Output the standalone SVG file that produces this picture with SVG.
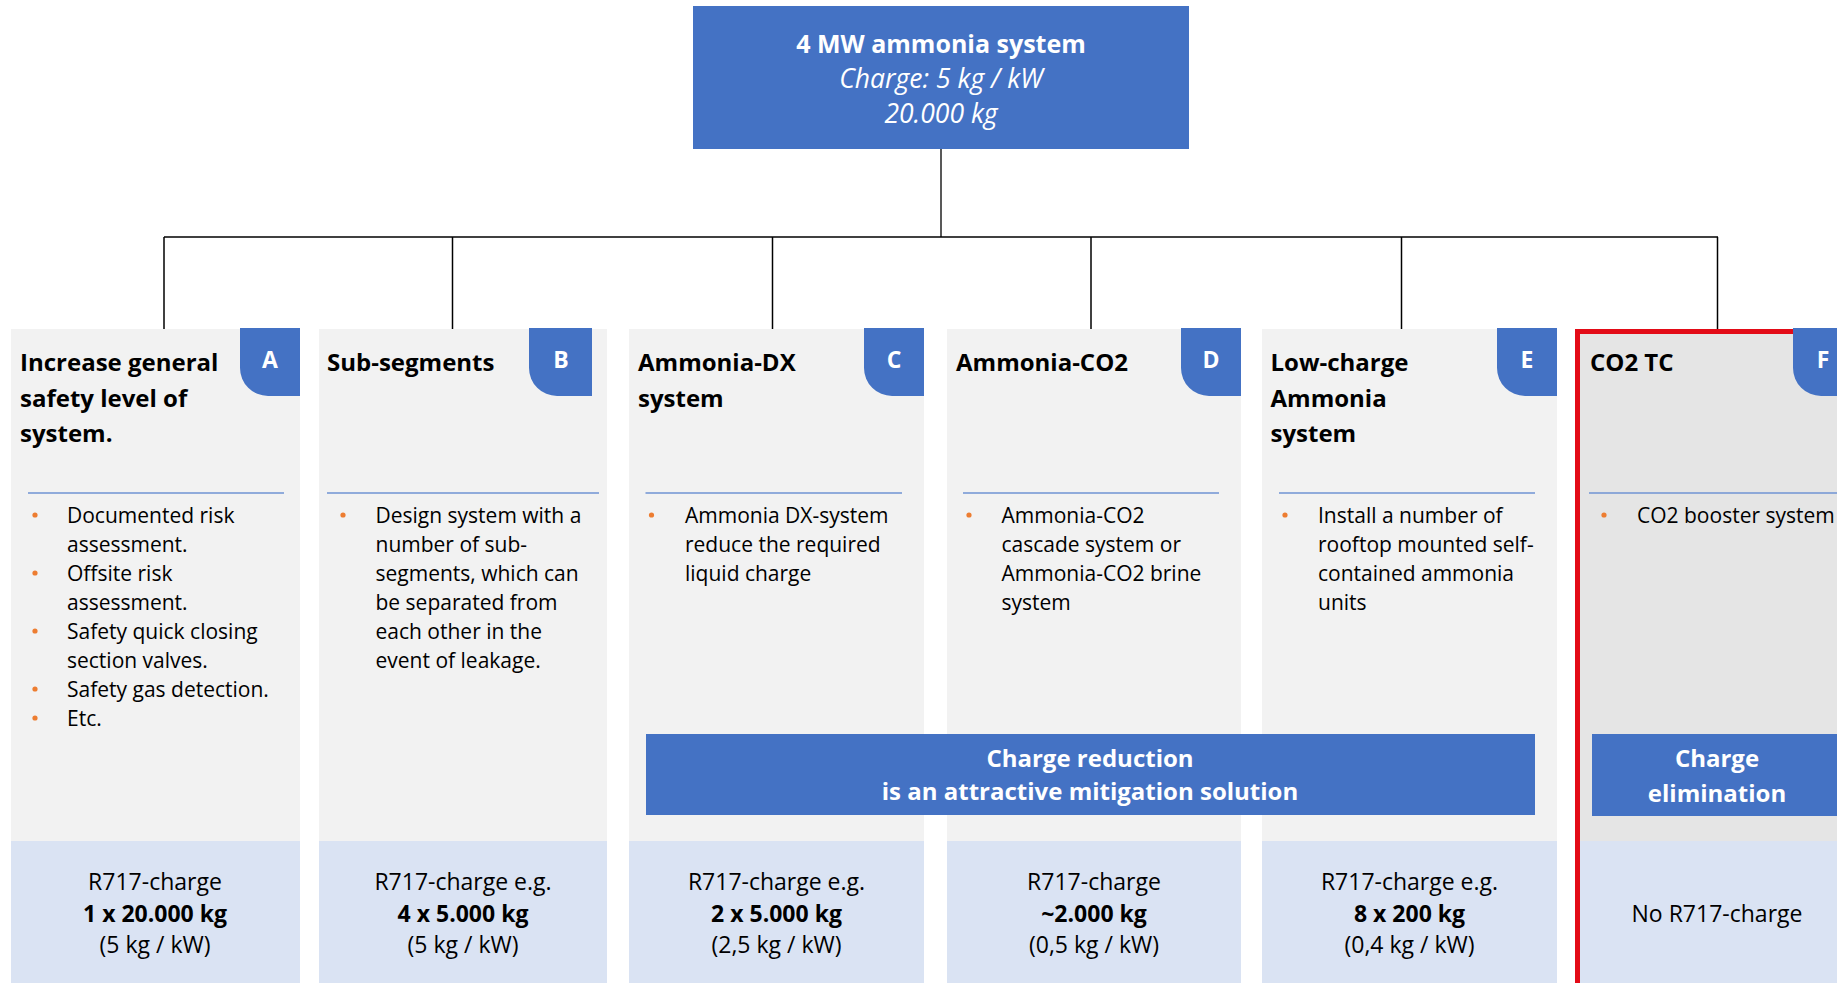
<svg xmlns="http://www.w3.org/2000/svg" width="1837" height="983" viewBox="0 0 1837 983">
<style>
.panel{fill:#F2F2F2}
.panelF{fill:#E5E5E5}
.lb{fill:#DAE3F3}
.blue{fill:#4472C4}
.sep{stroke:#6F93D3;stroke-width:1.5}
.dot{fill:#ED7D31}
.t{font-family:"Open Sans","Noto Sans","Liberation Sans",sans-serif;fill:#000}
.h{font-size:24px;font-weight:700}
.b{font-size:21px}
.bt{font-size:23px;text-anchor:middle}
.w{fill:#fff}
.badge{font-size:23px;font-weight:700;text-anchor:middle;fill:#fff}
.ban{font-size:24px;font-weight:700;text-anchor:middle;fill:#fff}
.conn{stroke:#000;stroke-width:1.5;fill:none}
</style>
<rect width="1837" height="983" fill="#fff"/>

<g id="connectors">
<line x1="941" y1="149" x2="941" y2="237" stroke="#595959" stroke-width="2"/>
<line class="conn" x1="164" y1="237" x2="1718" y2="237"/>
<line class="conn" x1="164" y1="237" x2="164" y2="329"/>
<line class="conn" x1="452.5" y1="237" x2="452.5" y2="329"/>
<line class="conn" x1="772.5" y1="237" x2="772.5" y2="329"/>
<line class="conn" x1="1091" y1="237" x2="1091" y2="329"/>
<line class="conn" x1="1401.5" y1="237" x2="1401.5" y2="329"/>
<line class="conn" x1="1717.5" y1="237" x2="1717.5" y2="329"/>
</g>

<g id="top">
<rect class="blue" x="693" y="6" width="496" height="143"/>
<text class="t w" x="941" y="53" font-size="25" font-weight="700" text-anchor="middle">4 MW ammonia system</text>
<text class="t w" x="941" y="88" font-size="26.5" font-style="italic" text-anchor="middle">Charge: 5 kg / kW</text>
<text class="t w" x="941" y="123" font-size="26.5" font-style="italic" text-anchor="middle">20.000 kg</text>
</g>

<g id="colA">
<rect class="panel" x="11" y="329" width="289" height="512"/>
<rect class="lb" x="11" y="841" width="289" height="142"/>
<path class="blue" d="M240 328 H300 V396 H268 A28 28 0 0 1 240 368 Z"/>
<text class="badge" x="270" y="368" font-family="Open Sans, sans-serif">A</text>
<text class="t h" x="20" y="371">Increase general</text>
<text class="t h" x="20" y="406.5">safety level of</text>
<text class="t h" x="20" y="442">system.</text>
<line class="sep" x1="28" y1="493" x2="284" y2="493"/>
<circle class="dot" cx="35" cy="515" r="2.6"/>
<circle class="dot" cx="35" cy="573" r="2.6"/>
<circle class="dot" cx="35" cy="631" r="2.6"/>
<circle class="dot" cx="35" cy="689" r="2.6"/>
<circle class="dot" cx="35" cy="718" r="2.6"/>
<text class="t b" x="67" y="523">Documented risk</text>
<text class="t b" x="67" y="552">assessment.</text>
<text class="t b" x="67" y="581">Offsite risk</text>
<text class="t b" x="67" y="610">assessment.</text>
<text class="t b" x="67" y="639">Safety quick closing</text>
<text class="t b" x="67" y="668">section valves.</text>
<text class="t b" x="67" y="697">Safety gas detection.</text>
<text class="t b" x="67" y="726">Etc.</text>
<text class="t bt" x="155" y="890">R717-charge</text>
<text class="t bt" x="155" y="922" font-weight="700">1 x 20.000 kg</text>
<text class="t bt" x="155" y="953">(5 kg / kW)</text>
</g>

<g id="colB">
<rect class="panel" x="319" y="329" width="288" height="512"/>
<rect class="lb" x="319" y="841" width="288" height="142"/>
<path class="blue" d="M529 328 H592 V396 H557 A28 28 0 0 1 529 368 Z"/>
<text class="badge" x="561" y="368" font-family="Open Sans, sans-serif">B</text>
<text class="t h" x="327" y="371">Sub-segments</text>
<line class="sep" x1="327" y1="493" x2="599" y2="493"/>
<circle class="dot" cx="343" cy="515" r="2.6"/>
<text class="t b" x="375.5" y="523">Design system with a</text>
<text class="t b" x="375.5" y="552">number of sub-</text>
<text class="t b" x="375.5" y="581">segments, which can</text>
<text class="t b" x="375.5" y="610">be separated from</text>
<text class="t b" x="375.5" y="639">each other in the</text>
<text class="t b" x="375.5" y="668">event of leakage.</text>
<text class="t bt" x="463" y="890">R717-charge e.g.</text>
<text class="t bt" x="463" y="922" font-weight="700">4 x 5.000 kg</text>
<text class="t bt" x="463" y="953">(5 kg / kW)</text>
</g>

<g id="colC">
<rect class="panel" x="629" y="329" width="295" height="512"/>
<rect class="lb" x="629" y="841" width="295" height="142"/>
<path class="blue" d="M864 328 H924 V396 H892 A28 28 0 0 1 864 368 Z"/>
<text class="badge" x="894" y="368" font-family="Open Sans, sans-serif">C</text>
<text class="t h" x="638" y="371">Ammonia-DX</text>
<text class="t h" x="638" y="406.5">system</text>
<line class="sep" x1="645.5" y1="493" x2="902" y2="493"/>
<circle class="dot" cx="651.5" cy="515" r="2.6"/>
<text class="t b" x="685" y="523">Ammonia DX-system</text>
<text class="t b" x="685" y="552">reduce the required</text>
<text class="t b" x="685" y="581">liquid charge</text>
<text class="t bt" x="776.5" y="890">R717-charge e.g.</text>
<text class="t bt" x="776.5" y="922" font-weight="700">2 x 5.000 kg</text>
<text class="t bt" x="776.5" y="953">(2,5 kg / kW)</text>
</g>

<g id="colD">
<rect class="panel" x="947" y="329" width="294" height="512"/>
<rect class="lb" x="947" y="841" width="294" height="142"/>
<path class="blue" d="M1181 328 H1241 V396 H1209 A28 28 0 0 1 1181 368 Z"/>
<text class="badge" x="1211" y="368" font-family="Open Sans, sans-serif">D</text>
<text class="t h" x="956" y="371">Ammonia-CO2</text>
<line class="sep" x1="963" y1="493" x2="1219" y2="493"/>
<circle class="dot" cx="969" cy="515" r="2.6"/>
<text class="t b" x="1001.5" y="523">Ammonia-CO2</text>
<text class="t b" x="1001.5" y="552">cascade system or</text>
<text class="t b" x="1001.5" y="581">Ammonia-CO2 brine</text>
<text class="t b" x="1001.5" y="610">system</text>
<text class="t bt" x="1094" y="890">R717-charge</text>
<text class="t bt" x="1094" y="922" font-weight="700">~2.000 kg</text>
<text class="t bt" x="1094" y="953">(0,5 kg / kW)</text>
</g>

<g id="colE">
<rect class="panel" x="1262" y="329" width="295" height="512"/>
<rect class="lb" x="1262" y="841" width="295" height="142"/>
<path class="blue" d="M1497 328 H1557 V396 H1525 A28 28 0 0 1 1497 368 Z"/>
<text class="badge" x="1527" y="368" font-family="Open Sans, sans-serif">E</text>
<text class="t h" x="1270.5" y="371">Low-charge</text>
<text class="t h" x="1270.5" y="406.5">Ammonia</text>
<text class="t h" x="1270.5" y="442">system</text>
<line class="sep" x1="1279" y1="493" x2="1535" y2="493"/>
<circle class="dot" cx="1285" cy="515" r="2.6"/>
<text class="t b" x="1318" y="523">Install a number of</text>
<text class="t b" x="1318" y="552">rooftop mounted self-</text>
<text class="t b" x="1318" y="581">contained ammonia</text>
<text class="t b" x="1318" y="610">units</text>
<text class="t bt" x="1409.5" y="890">R717-charge e.g.</text>
<text class="t bt" x="1409.5" y="922" font-weight="700">8 x 200 kg</text>
<text class="t bt" x="1409.5" y="953">(0,4 kg / kW)</text>
</g>

<g id="colF">
<rect class="panelF" x="1577" y="329" width="270" height="512"/>
<rect class="lb" x="1577" y="841" width="270" height="150"/>
<rect x="1577.5" y="331.5" width="280" height="680" fill="none" stroke="#E30B17" stroke-width="5"/>
<path class="blue" d="M1793 328 H1853 V396 H1821 A28 28 0 0 1 1793 368 Z"/>
<text class="badge" x="1823" y="368" font-family="Open Sans, sans-serif">F</text>
<text class="t h" x="1590" y="371">CO2 TC</text>
<line class="sep" x1="1589" y1="493" x2="1837" y2="493"/>
<circle class="dot" cx="1604" cy="515" r="2.6"/>
<text class="t b" x="1637" y="523">CO2 booster system</text>
<text class="t bt" x="1717" y="922">No R717-charge</text>
</g>

<g id="banner-reduction">
<rect class="blue" x="646" y="734" width="889" height="81"/>
<text class="t ban" x="1090" y="767" font-family="Open Sans, sans-serif">Charge reduction</text>
<text class="t ban" x="1090" y="800" font-family="Open Sans, sans-serif">is an attractive mitigation solution</text>
</g>

<g id="banner-elimination">
<rect class="blue" x="1592" y="734" width="250" height="82"/>
<text class="t ban" x="1717" y="767" font-family="Open Sans, sans-serif">Charge</text>
<text class="t ban" x="1717" y="802" font-family="Open Sans, sans-serif">elimination</text>
</g>
</svg>
